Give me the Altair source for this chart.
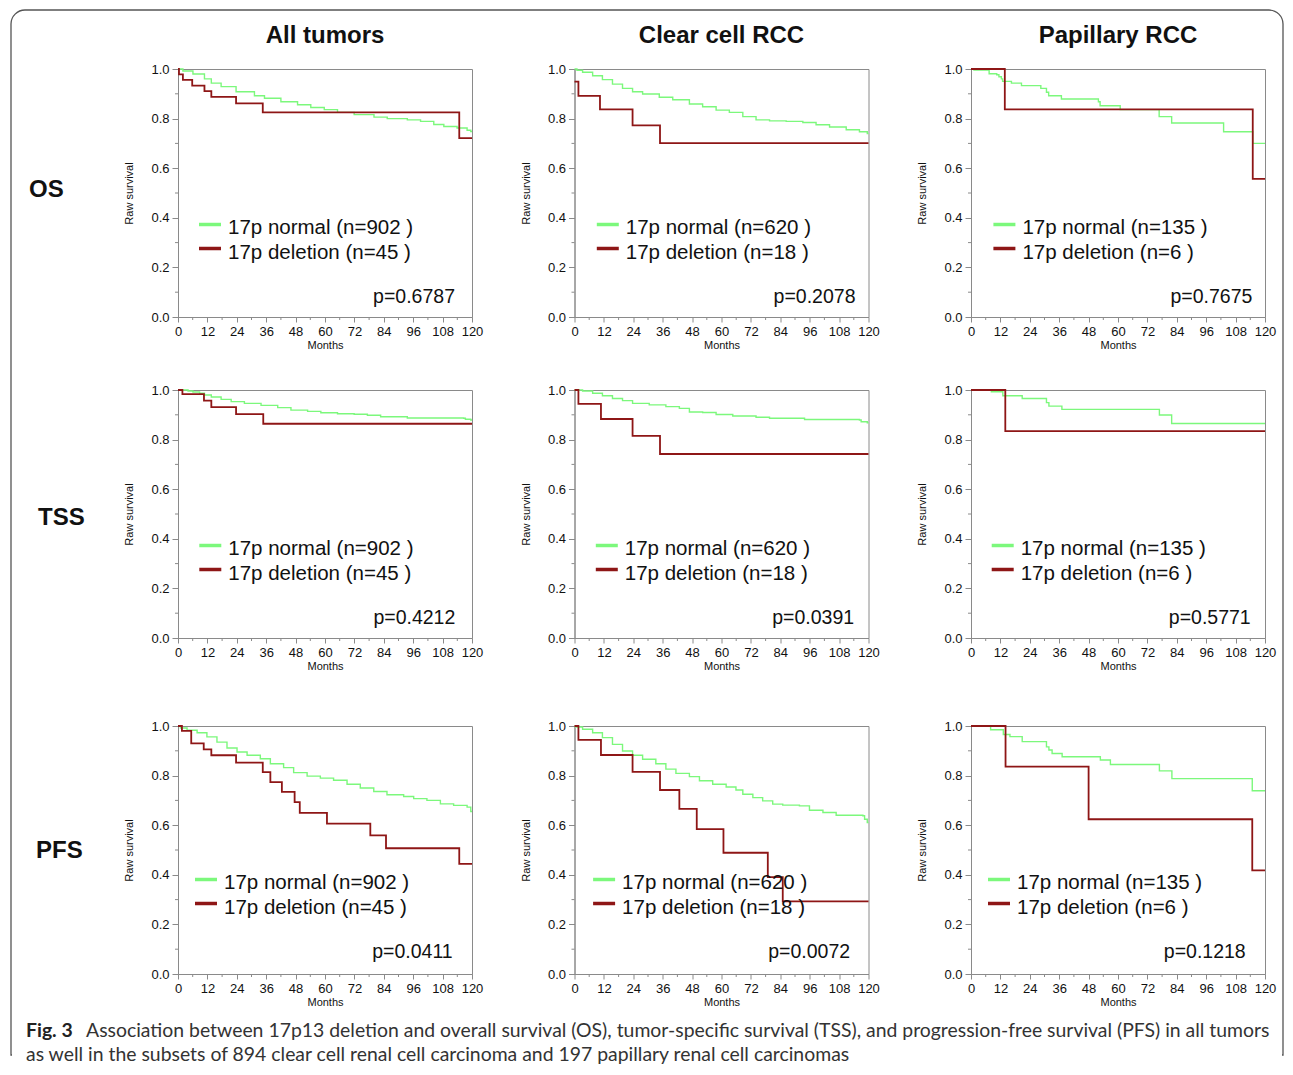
import altair as alt
import pandas as pd

# ---------------- data ----------------
COLS = ["All tumors", "Clear cell RCC", "Papillary RCC"]
ROWS = ["OS", "TSS", "PFS"]
N_NORMAL = [902, 620, 135]
N_DELETION = [45, 18, 6]
P_VALUES = [["0.6787", "0.2078", "0.7675"],
            ["0.4212", "0.0391", "0.5771"],
            ["0.0411", "0.0072", "0.1218"]]
X_TICKS = list(range(0, 121, 12))
X_MINOR = list(range(6, 120, 12))
Y_TICKS = [0.0, 0.2, 0.4, 0.6, 0.8, 1.0]
Y_MINOR = [0.1, 0.3, 0.5, 0.7, 0.9]

# (months, survival) step points
os_all_norm = [(0, 1.0), (2, 0.992), (6.1, 0.980), (10.8, 0.960), (13.6, 0.943), (17.6, 0.929), (23.7, 0.908),
               (31.2, 0.892), (35.3, 0.882), (42.0, 0.868), (48.8, 0.856), (54.2, 0.845), (59.7, 0.836),
               (65.1, 0.825), (71.9, 0.816), (80.0, 0.806), (85.4, 0.800), (93.6, 0.795), (99.0, 0.789),
               (104.4, 0.776), (108.5, 0.768), (113.9, 0.762), (118.0, 0.753), (119.5, 0.748), (120, 0.748)]
os_all_del = [(0, 1.0), (0.4, 0.978), (2, 0.956), (5.8, 0.933), (10.8, 0.911), (13.6, 0.888), (23.7, 0.861),
              (34.6, 0.825), (114.8, 0.721), (120, 0.721)]
os_cc_norm = [(0, 1.0), (1, 0.995), (3.3, 0.987), (7.4, 0.973), (11.4, 0.957), (15.5, 0.939), (19.6, 0.922),
              (23.7, 0.908), (27.8, 0.899), (34.6, 0.886), (40.1, 0.876), (46.9, 0.859), (52.3, 0.848),
              (57.8, 0.834), (63.2, 0.825), (68.7, 0.808), (74.1, 0.795), (79.6, 0.791), (86.4, 0.789),
              (93.2, 0.784), (98.6, 0.775), (104.1, 0.766), (110.9, 0.755), (116.3, 0.747), (119.5, 0.740),
              (120, 0.740)]
os_cc_del = [(0, 0.949), (1.6, 0.892), (10.4, 0.837), (23.7, 0.773), (34.9, 0.701), (120, 0.701)]
os_pap_norm = [(0, 1.0), (1.2, 0.996), (7.4, 0.981), (10.5, 0.977), (11.4, 0.969), (12.4, 0.960), (12.9, 0.950),
               (16.5, 0.943), (20.6, 0.933), (28.5, 0.922), (30.8, 0.906), (31.7, 0.892), (36.9, 0.879),
               (52.0, 0.868), (52.7, 0.852), (60.9, 0.836), (76.8, 0.808), (81.9, 0.782), (103.1, 0.747),
               (115.0, 0.700), (120, 0.700)]
os_pap_del = [(0, 1.0), (13.8, 0.837), (115.0, 0.557), (120, 0.557)]

tss_all_norm = [(0, 1.0), (4.1, 0.996), (6.1, 0.992), (8.8, 0.987), (10.8, 0.980), (13.6, 0.972), (17.6, 0.962),
                (21.7, 0.953), (27.1, 0.946), (33.9, 0.938), (40.7, 0.929), (46.1, 0.919), (52.9, 0.914),
                (58.3, 0.908), (65.1, 0.904), (71.9, 0.902), (77.3, 0.898), (82.7, 0.892), (93.6, 0.887),
                (116.6, 0.886), (117.3, 0.882), (119.5, 0.879), (120, 0.879)]
tss_all_del = [(0, 1.0), (1.8, 0.983), (10.6, 0.957), (13.6, 0.931), (23.7, 0.903), (34.8, 0.864), (120, 0.864)]
tss_cc_norm = [(0, 1.0), (3.3, 0.996), (7.4, 0.987), (11.4, 0.977), (15.5, 0.966), (19.6, 0.957), (23.7, 0.946),
               (30.5, 0.940), (37.3, 0.933), (42.8, 0.926), (46.9, 0.911), (52.3, 0.909), (57.8, 0.901),
               (64.6, 0.895), (74.1, 0.890), (79.6, 0.886), (93.9, 0.881), (116.3, 0.879), (117.0, 0.872),
               (119.5, 0.868), (120, 0.868)]
tss_cc_del = [(0, 1.0), (1.6, 0.944), (10.8, 0.883), (23.7, 0.815), (34.9, 0.742), (120, 0.742)]
tss_pap_norm = [(0, 1.0), (8.3, 0.993), (13.0, 0.977), (20.9, 0.966), (30.8, 0.949), (31.8, 0.935), (37.1, 0.922),
                (76.9, 0.899), (81.9, 0.865), (120, 0.865)]
tss_pap_del = [(0, 1.0), (14.0, 0.834), (120, 0.834)]

pfs_all_norm = [(0, 1.0), (1.0, 0.992), (3.7, 0.983), (7.8, 0.973), (11.8, 0.956), (15.9, 0.935), (20.0, 0.911),
                (24.1, 0.895), (28.2, 0.882), (33.6, 0.868), (37.7, 0.848), (43.1, 0.832), (47.2, 0.812),
                (52.7, 0.798), (58.1, 0.790), (63.5, 0.781), (69.0, 0.765), (74.4, 0.750), (79.9, 0.736),
                (85.3, 0.723), (92.1, 0.716), (96.2, 0.707), (101.6, 0.700), (107.1, 0.686), (112.5, 0.680),
                (118.0, 0.673), (119.5, 0.655), (120, 0.655)]
pfs_all_del = [(0, 1.0), (1.6, 0.980), (5.4, 0.930), (10.5, 0.906), (13.6, 0.882), (23.7, 0.852), (34.6, 0.814),
               (37.7, 0.774), (42.4, 0.734), (47.6, 0.693), (49.7, 0.650), (60.8, 0.606), (78.5, 0.559),
               (84.9, 0.507), (114.8, 0.444), (120, 0.444)]
pfs_cc_norm = [(0, 1.0), (0.5, 0.996), (3.3, 0.987), (7.4, 0.973), (11.4, 0.953), (15.5, 0.926), (19.6, 0.899),
               (23.7, 0.882), (27.8, 0.866), (33.2, 0.848), (37.3, 0.826), (41.4, 0.809), (46.9, 0.796),
               (51.0, 0.779), (56.4, 0.765), (61.9, 0.754), (65.9, 0.742), (68.7, 0.725), (72.8, 0.711),
               (76.8, 0.698), (80.9, 0.685), (85.0, 0.681), (91.8, 0.678), (95.9, 0.660), (101.4, 0.651),
               (106.8, 0.640), (117.7, 0.638), (118.4, 0.624), (119.5, 0.611), (120, 0.611)]
pfs_cc_del = [(0, 1.0), (1.6, 0.944), (10.8, 0.883), (23.7, 0.815), (34.9, 0.742), (42.8, 0.666), (49.9, 0.584),
              (60.8, 0.489), (78.9, 0.391), (85.0, 0.293), (120, 0.293)]
pfs_pap_norm = [(0, 1.0), (8.0, 0.985), (13.2, 0.966), (15.9, 0.957), (20.9, 0.937), (30.8, 0.916), (31.8, 0.903),
                (33.1, 0.889), (37.2, 0.876), (52.8, 0.863), (56.9, 0.845), (76.9, 0.819), (82.0, 0.788),
                (114.8, 0.739), (120, 0.739)]
pfs_pap_del = [(0, 1.0), (14.1, 0.836), (48.0, 0.624), (114.8, 0.418), (120, 0.418)]

CURVES = [
    [(os_all_norm, os_all_del), (os_cc_norm, os_cc_del), (os_pap_norm, os_pap_del)],
    [(tss_all_norm, tss_all_del), (tss_cc_norm, tss_cc_del), (tss_pap_norm, tss_pap_del)],
    [(pfs_all_norm, pfs_all_del), (pfs_cc_norm, pfs_cc_del), (pfs_pap_norm, pfs_pap_del)],
]

CAPTION_BOLD = "Fig. 3"
CAPTION_1 = ("Association between 17p13 deletion and overall survival (OS), tumor-specific survival (TSS), "
             "and progression-free survival (PFS) in all tumors")
CAPTION_2 = "as well in the subsets of 894 clear cell renal cell carcinoma and 197 papillary renal cell carcinomas"

# ---------------- styling / layout ----------------
W, H = 294, 248
GREEN = "#7CF87C"
RED = "#8E1616"
AXIS = "#8a8a8a"
FONT = "Liberation Sans"
CAP_FONT = "Lato"
LEG_X = [[21, 22.3, 22.4], [21.3, 21.3, 20.7], [17, 18.6, 17]]
P_RIGHT = [[277, 281, 281.4], [277.3, 279.6, 279.7], [274.7, 275.6, 274.7]]
ROW_DY = [0, 0, -2]
ROW_LABEL_X = [-149, -140, -142]
ROW_LABEL_Y = [121, 128, 125]

one = pd.DataFrame({"a": [0]})

xenc = alt.X("t:Q", scale=alt.Scale(domain=[0, 120], nice=False, zero=False),
             axis=alt.Axis(values=X_TICKS, title="Months", grid=False, labelFlush=False,
                           tickSize=5, labelPadding=3, labelFontSize=13, titleFontSize=11,
                           titlePadding=1, titleFontWeight="normal"))
yenc = alt.Y("s:Q", scale=alt.Scale(domain=[0, 1], nice=False),
             axis=alt.Axis(values=Y_TICKS, format=".1f", title="Raw survival", grid=False,
                           labelFlush=False, tickSize=6, labelPadding=3, labelFontSize=13,
                           titleFontSize=11, titlePadding=16, titleFontWeight="normal"))


def txt(text, x, y, size, align="left", baseline="alphabetic", weight="normal", font=FONT, color="#111"):
    return alt.Chart(one).mark_text(align=align, baseline=baseline, font=font, fontSize=size,
                                    fontWeight=weight, color=color, text=text).encode(
        x=alt.value(x), y=alt.value(y))


def panel(r, c):
    norm, dele = CURVES[r][c]
    dn = pd.DataFrame(norm, columns=["t", "s"])
    dd = pd.DataFrame(dele, columns=["t", "s"])
    dy = ROW_DY[r]
    lx = LEG_X[r][c]
    layers = [
        alt.Chart(pd.DataFrame({"t": X_MINOR})).mark_rule(color=AXIS, strokeWidth=1).encode(
            x=xenc, y=alt.value(H), y2=alt.value(H + 3)),
        alt.Chart(pd.DataFrame({"s": Y_MINOR})).mark_rule(color=AXIS, strokeWidth=1).encode(
            y=yenc, x=alt.value(-3), x2=alt.value(0)),
        alt.Chart(dn).mark_line(interpolate="step-after", color=GREEN, strokeWidth=1.4).encode(x=xenc, y=yenc),
        alt.Chart(dd).mark_line(interpolate="step-after", color=RED, strokeWidth=1.8).encode(x=xenc, y=yenc),
        alt.Chart(one).mark_rule(color=GREEN, strokeWidth=3.5).encode(
            x=alt.value(lx), x2=alt.value(lx + 22), y=alt.value(155.5 + dy)),
        alt.Chart(one).mark_rule(color=RED, strokeWidth=3.5).encode(
            x=alt.value(lx), x2=alt.value(lx + 22), y=alt.value(179.5 + dy)),
        txt(f"17p normal (n={N_NORMAL[c]} )", lx + 29, 165 + dy, 20.5),
        txt(f"17p deletion (n={N_DELETION[c]} )", lx + 29, 189.5 + dy, 20.5),
        txt(f"p={P_VALUES[r][c]}", P_RIGHT[r][c], 234 + dy, 19.5, align="right"),
    ]
    if r == 0:
        layers.append(txt(COLS[c], W / 2, -26, 24, align="center", weight="bold"))
    if c == 0:
        layers.append(txt(ROWS[r], ROW_LABEL_X[r], ROW_LABEL_Y[r], 24, baseline="middle", weight="bold"))
    if r == 0 and c == 0:
        # figure frame (its bottom edge runs off the page in the original)
        layers.append(alt.Chart(one).mark_rect(fill="transparent", stroke="#555", strokeWidth=1.3,
                                               cornerRadiusTopLeft=14, cornerRadiusTopRight=14).encode(
            x=alt.value(-167), x2=alt.value(1105), y=alt.value(-59), y2=alt.value(986)))
        layers.append(alt.Chart(one).mark_rule(color="white", strokeWidth=3).encode(
            x=alt.value(-166), x2=alt.value(1104), y=alt.value(986)))
    if r == 2 and c == 0:
        layers.append(txt(CAPTION_BOLD, -152, 311, 19.4, weight="bold", font=CAP_FONT, color="#222"))
        layers.append(txt(CAPTION_1, -92, 311, 19.4, font=CAP_FONT, color="#333"))
        layers.append(txt(CAPTION_2, -152, 335, 19.4, font=CAP_FONT, color="#333"))
    return alt.layer(*layers).properties(width=W, height=H)


def spacer(h):
    return alt.Chart(one).mark_text(text="").encode(x=alt.value(0), y=alt.value(0)).properties(
        width=W, height=h, view=alt.ViewBackground(stroke="transparent"))


cells = []
for r in range(3):
    for c in range(3):
        cells.append(panel(r, c))
    if r == 0:
        cells += [spacer(73) for _ in range(3)]
    if r == 1:
        cells += [spacer(88) for _ in range(3)]

chart = alt.concat(*cells, columns=3, spacing={"row": 0, "column": 102.5}, bounds="flush").properties(
    padding={"left": 1, "top": 0, "right": 0, "bottom": 0}
).configure_view(stroke=AXIS, strokeWidth=1).configure_axis(
    domainColor=AXIS, tickColor=AXIS, labelColor="#111", titleColor="#111", labelFont=FONT, titleFont=FONT
)

chart.save("out.html", embed_options={"renderer": "svg", "actions": False})
